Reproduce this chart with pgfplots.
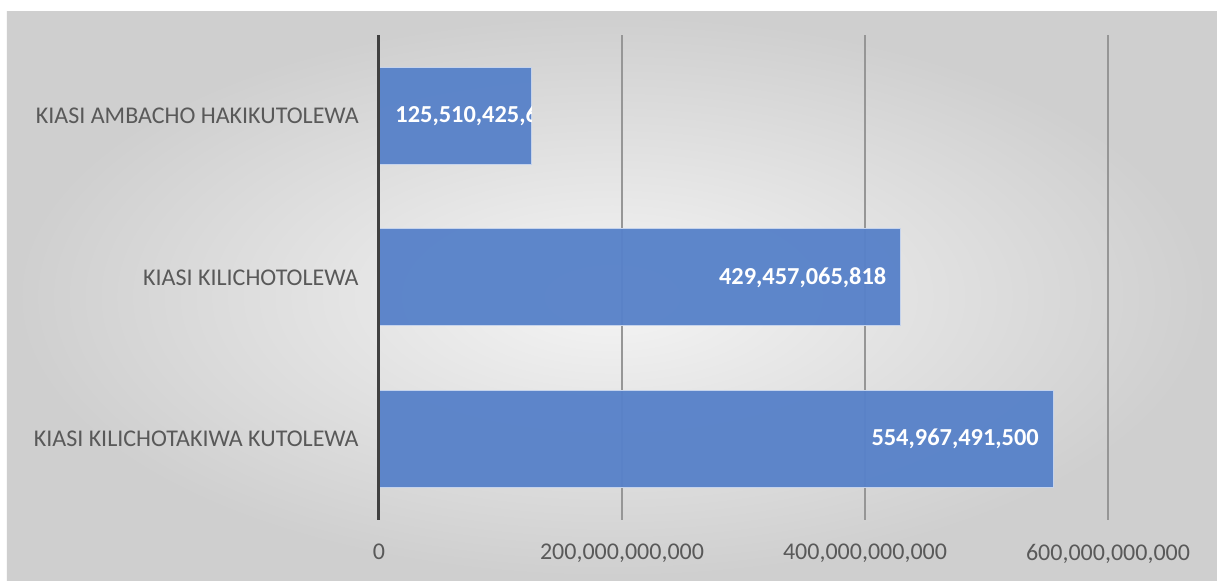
\documentclass[border=0pt]{standalone}
\usepackage{pgfplots}
\pgfplotsset{compat=1.18}
\usepackage{fontspec}
\setmainfont{Carlito}
\definecolor{barblue}{RGB}{88,130,201}
\definecolor{lbl}{RGB}{89,89,89}
\definecolor{gridc}{RGB}{150,150,150}
\definecolor{axc}{RGB}{64,64,64}
\begin{document}
\begin{tikzpicture}
\useasboundingbox (-189.5pt,-30.5pt) rectangle (419pt,260pt);
\fill[white] (-189.5pt,-30.5pt) rectangle (419pt,260pt);
\shade[inner color=white!96!black, outer color=white!81!black] (-186pt,-30.5pt) rectangle (419pt,254pt);
\begin{axis}[
  at={(0,0)}, anchor=south west,
  scale only axis, width=364.5pt, height=242.5pt,
  xbar, bar width=0.6, bar shift=0pt,
  xmin=0, xmax=6e11, ymin=-0.5, ymax=2.5,
  xtick={0,2e11,4e11,6e11},
  xticklabels={0,{200,000,000,000},{400,000,000,000},{600,000,000,000}},
  ytick={0,1,2},
  yticklabels={KIASI KILICHOTAKIWA KUTOLEWA,KIASI KILICHOTOLEWA,KIASI AMBACHO HAKIKUTOLEWA},
  major tick length=0pt,
  xmajorgrids, grid style={gridc, line width=0.65pt},
  axis line style={draw=none},
  tick label style={font=\fontsize{12}{14}\selectfont, text=lbl},
  xticklabel style={anchor=north, yshift=-8.5pt},
  yticklabel style={anchor=east, inner sep=0pt, xshift=-10pt},
  scaled x ticks=false,
  point meta=explicit symbolic,
  clip=false,
]
\addplot[fill=barblue, draw=white!65!barblue, line width=0.5pt, fill opacity=0.96,
  nodes near coords={\pgfplotspointmeta},
  nodes near coords style={anchor=east, inner sep=0pt, xshift=-7pt, text=white, text opacity=1,
    font=\fontsize{12.2}{14}\selectfont\bfseries}]
  coordinates {(554967491500,0) [{554,967,491,500}] (429457065818,1) [{429,457,065,818}]};
\addplot[fill=barblue, draw=white!65!barblue, line width=0.5pt, fill opacity=0.96]
  coordinates {(125510425682,2) []};
\draw[axc, line width=1.5pt] (axis cs:0,-0.5) -- (axis cs:0,2.5);
\coordinate (c1) at (axis cs:0,1.7);
\coordinate (c2) at (axis cs:125510425682,2.3);
\coordinate (c3) at (axis cs:0,2);
\end{axis}
\begin{scope}
\clip (c1) rectangle (c2);
\node[anchor=west, inner sep=0pt, text=white, font=\fontsize{12.2}{14}\selectfont\bfseries] at ([xshift=8pt]c3) {125,510,425,682};
\end{scope}
\end{tikzpicture}
\end{document}
